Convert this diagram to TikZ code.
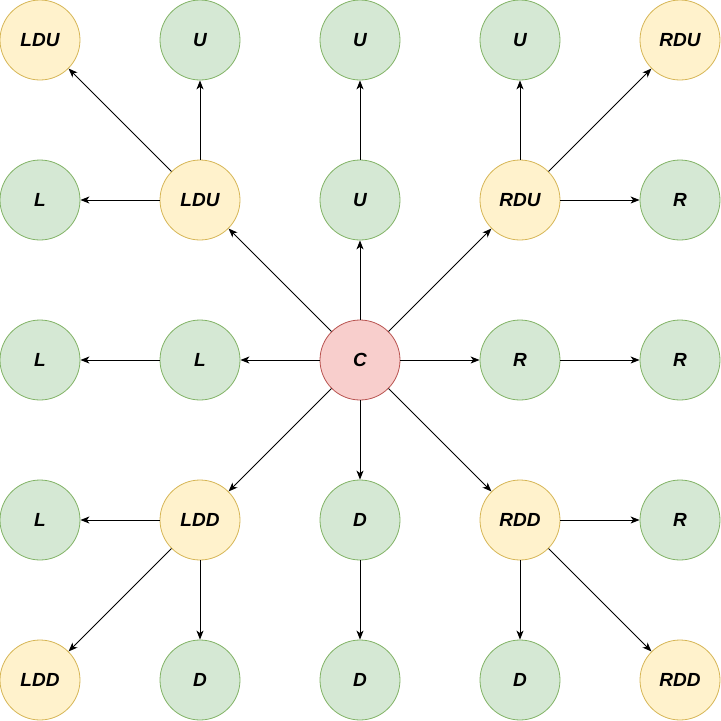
\documentclass[tikz,border=0pt]{standalone}
\usepackage{fontspec}
\setmainfont{Liberation Sans}
\usetikzlibrary{arrows.meta}
\definecolor{gfill}{HTML}{D5E8D4}\definecolor{gdraw}{HTML}{82B366}
\definecolor{yfill}{HTML}{FFF2CC}\definecolor{ydraw}{HTML}{D6B656}
\definecolor{rfill}{HTML}{F8CECC}\definecolor{rdraw}{HTML}{B85450}
\tikzset{
  base/.style={circle, minimum size=80pt, inner sep=0pt, line width=0.8pt,
    font=\fontsize{19}{22}\selectfont\bfseries\itshape},
  gnode/.style={base, fill=gfill, draw=gdraw},
  ynode/.style={base, fill=yfill, draw=ydraw},
  rnode/.style={base, fill=rfill, draw=rdraw},
  link/.style={line width=1pt, -{Stealth[length=9pt,width=7pt,inset=2.5pt]}}
}
\begin{document}
\begin{tikzpicture}[x=1pt,y=-1pt]
\useasboundingbox (0,0) rectangle (721,721);
% row 0
\node[ynode] (n00) at (40,40) {LDU};
\node[gnode] (n10) at (200,40) {U};
\node[gnode] (n20) at (360,40) {U};
\node[gnode] (n30) at (520,40) {U};
\node[ynode] (n40) at (680,40) {RDU};
% row 1
\node[gnode] (n01) at (40,200) {L};
\node[ynode] (n11) at (200,200) {LDU};
\node[gnode] (n21) at (360,200) {U};
\node[ynode] (n31) at (520,200) {RDU};
\node[gnode] (n41) at (680,200) {R};
% row 2
\node[gnode] (n02) at (40,360) {L};
\node[gnode] (n12) at (200,360) {L};
\node[rnode] (n22) at (360,360) {C};
\node[gnode] (n32) at (520,360) {R};
\node[gnode] (n42) at (680,360) {R};
% row 3
\node[gnode] (n03) at (40,520) {L};
\node[ynode] (n13) at (200,520) {LDD};
\node[gnode] (n23) at (360,520) {D};
\node[ynode] (n33) at (520,520) {RDD};
\node[gnode] (n43) at (680,520) {R};
% row 4
\node[ynode] (n04) at (40,680) {LDD};
\node[gnode] (n14) at (200,680) {D};
\node[gnode] (n24) at (360,680) {D};
\node[gnode] (n34) at (520,680) {D};
\node[ynode] (n44) at (680,680) {RDD};
% edges
\foreach \t in {n11,n21,n31,n12,n32,n13,n23,n33} \draw[link] (n22) -- (\t);
\foreach \t in {n00,n10,n01} \draw[link] (n11) -- (\t);
\draw[link] (n21) -- (n20);
\foreach \t in {n30,n40,n41} \draw[link] (n31) -- (\t);
\draw[link] (n12) -- (n02);
\draw[link] (n32) -- (n42);
\foreach \t in {n03,n04,n14} \draw[link] (n13) -- (\t);
\draw[link] (n23) -- (n24);
\foreach \t in {n43,n34,n44} \draw[link] (n33) -- (\t);
\end{tikzpicture}
\end{document}
